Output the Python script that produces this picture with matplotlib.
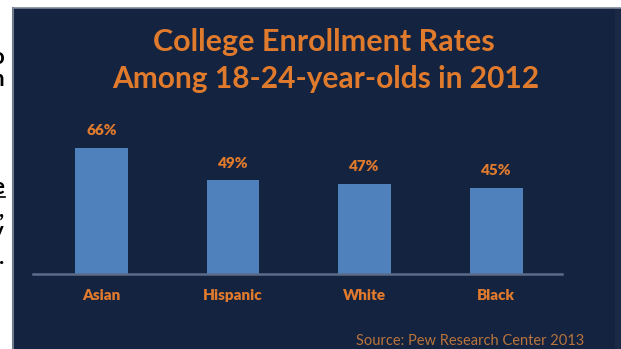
import matplotlib.pyplot as plt
from matplotlib.patches import Rectangle

groups = ["Asian", "Hispanic", "White", "Black"]
rates = [66, 49, 47, 45]
title_lines = ["College Enrollment Rates", "Among 18-24-year-olds in 2012"]
source = "Source: Pew Research Center 2013"
# bits of the surrounding page text cut off at the left edge
side_text = [("o", 57), ("n", 80), ("e", 188), (",", 210), ("y", 232), (".", 258)]

W, H = 621, 349
navy = "#14233f"
orange = "#e07a2c"
bar_blue = "#4f81bd"

fig = plt.figure(figsize=(W / 100, H / 100), dpi=100, facecolor="white")

# dark slide panel
fig.patches.append(Rectangle((13 / W, 0), (615 - 13) / W, (H - 8) / H,
                             transform=fig.transFigure, facecolor=navy,
                             edgecolor="none", zorder=-2))
fig.patches.append(Rectangle((615 / W, 0), 6 / W, (H - 8) / H,
                             transform=fig.transFigure, facecolor="#1a2a46",
                             edgecolor="none", zorder=-2))
fig.add_artist(plt.Line2D([13 / W, 13 / W], [0, (H - 8) / H],
                          transform=fig.transFigure, color="#6f7a8a", lw=1.5,
                          zorder=-1))
fig.add_artist(plt.Line2D([13 / W, 1], [(H - 8) / H, (H - 8) / H],
                          transform=fig.transFigure, color="#7f8898", lw=1.2,
                          zorder=-1))

for s, ypx in side_text:
    fig.text(4 / W, 1 - ypx / H, s, ha="right", va="center", fontsize=16,
             color="black", family=["Lato", "DejaVu Sans"], fontweight="bold")
fig.add_artist(plt.Line2D([0, 5 / W], [1 - 197 / H, 1 - 197 / H],
                          transform=fig.transFigure, color="black", lw=1.2))

ax = fig.add_axes([33 / W, (H - 274) / H, 529 / W, 152.8 / H])
ax.set_facecolor("none")
x = range(len(groups))
ax.bar(x, rates, width=0.40, color=bar_blue, zorder=2)
ax.set_xlim(-0.52, 3.5)
ax.set_ylim(0, 80)
for i, v in zip(x, rates):
    ax.annotate(f"{v}%", (i, v), xytext=(0, 12.5), textcoords="offset points",
                ha="center", va="center", color=orange, fontsize=11,
                fontweight="heavy", family="Lato")
for sp in ["top", "right", "left"]:
    ax.spines[sp].set_visible(False)
ax.spines["bottom"].set_color("#5b6d8a")
ax.spines["bottom"].set_linewidth(1.8)
ax.set_yticks([])
ax.set_xticks(list(x))
ax.set_xticklabels(groups, color=orange, fontsize=11, fontweight="heavy",
                   family="Lato")
ax.tick_params(axis="x", length=0, pad=11)

fig.text(324 / W, 1 - 42 / H, title_lines[0], ha="center", va="center",
         color=orange, fontsize=22, fontweight="bold", family="Lato")
fig.text(326 / W, 1 - 79 / H, title_lines[1], ha="center", va="center",
         color=orange, fontsize=21.5, fontweight="bold", family="Lato")
fig.text(470 / W, 1 - 341 / H, source, ha="center", va="center",
         color="#b8743c", fontsize=10.5, family="Lato")

fig.savefig("out.png", dpi=100, facecolor="white")
